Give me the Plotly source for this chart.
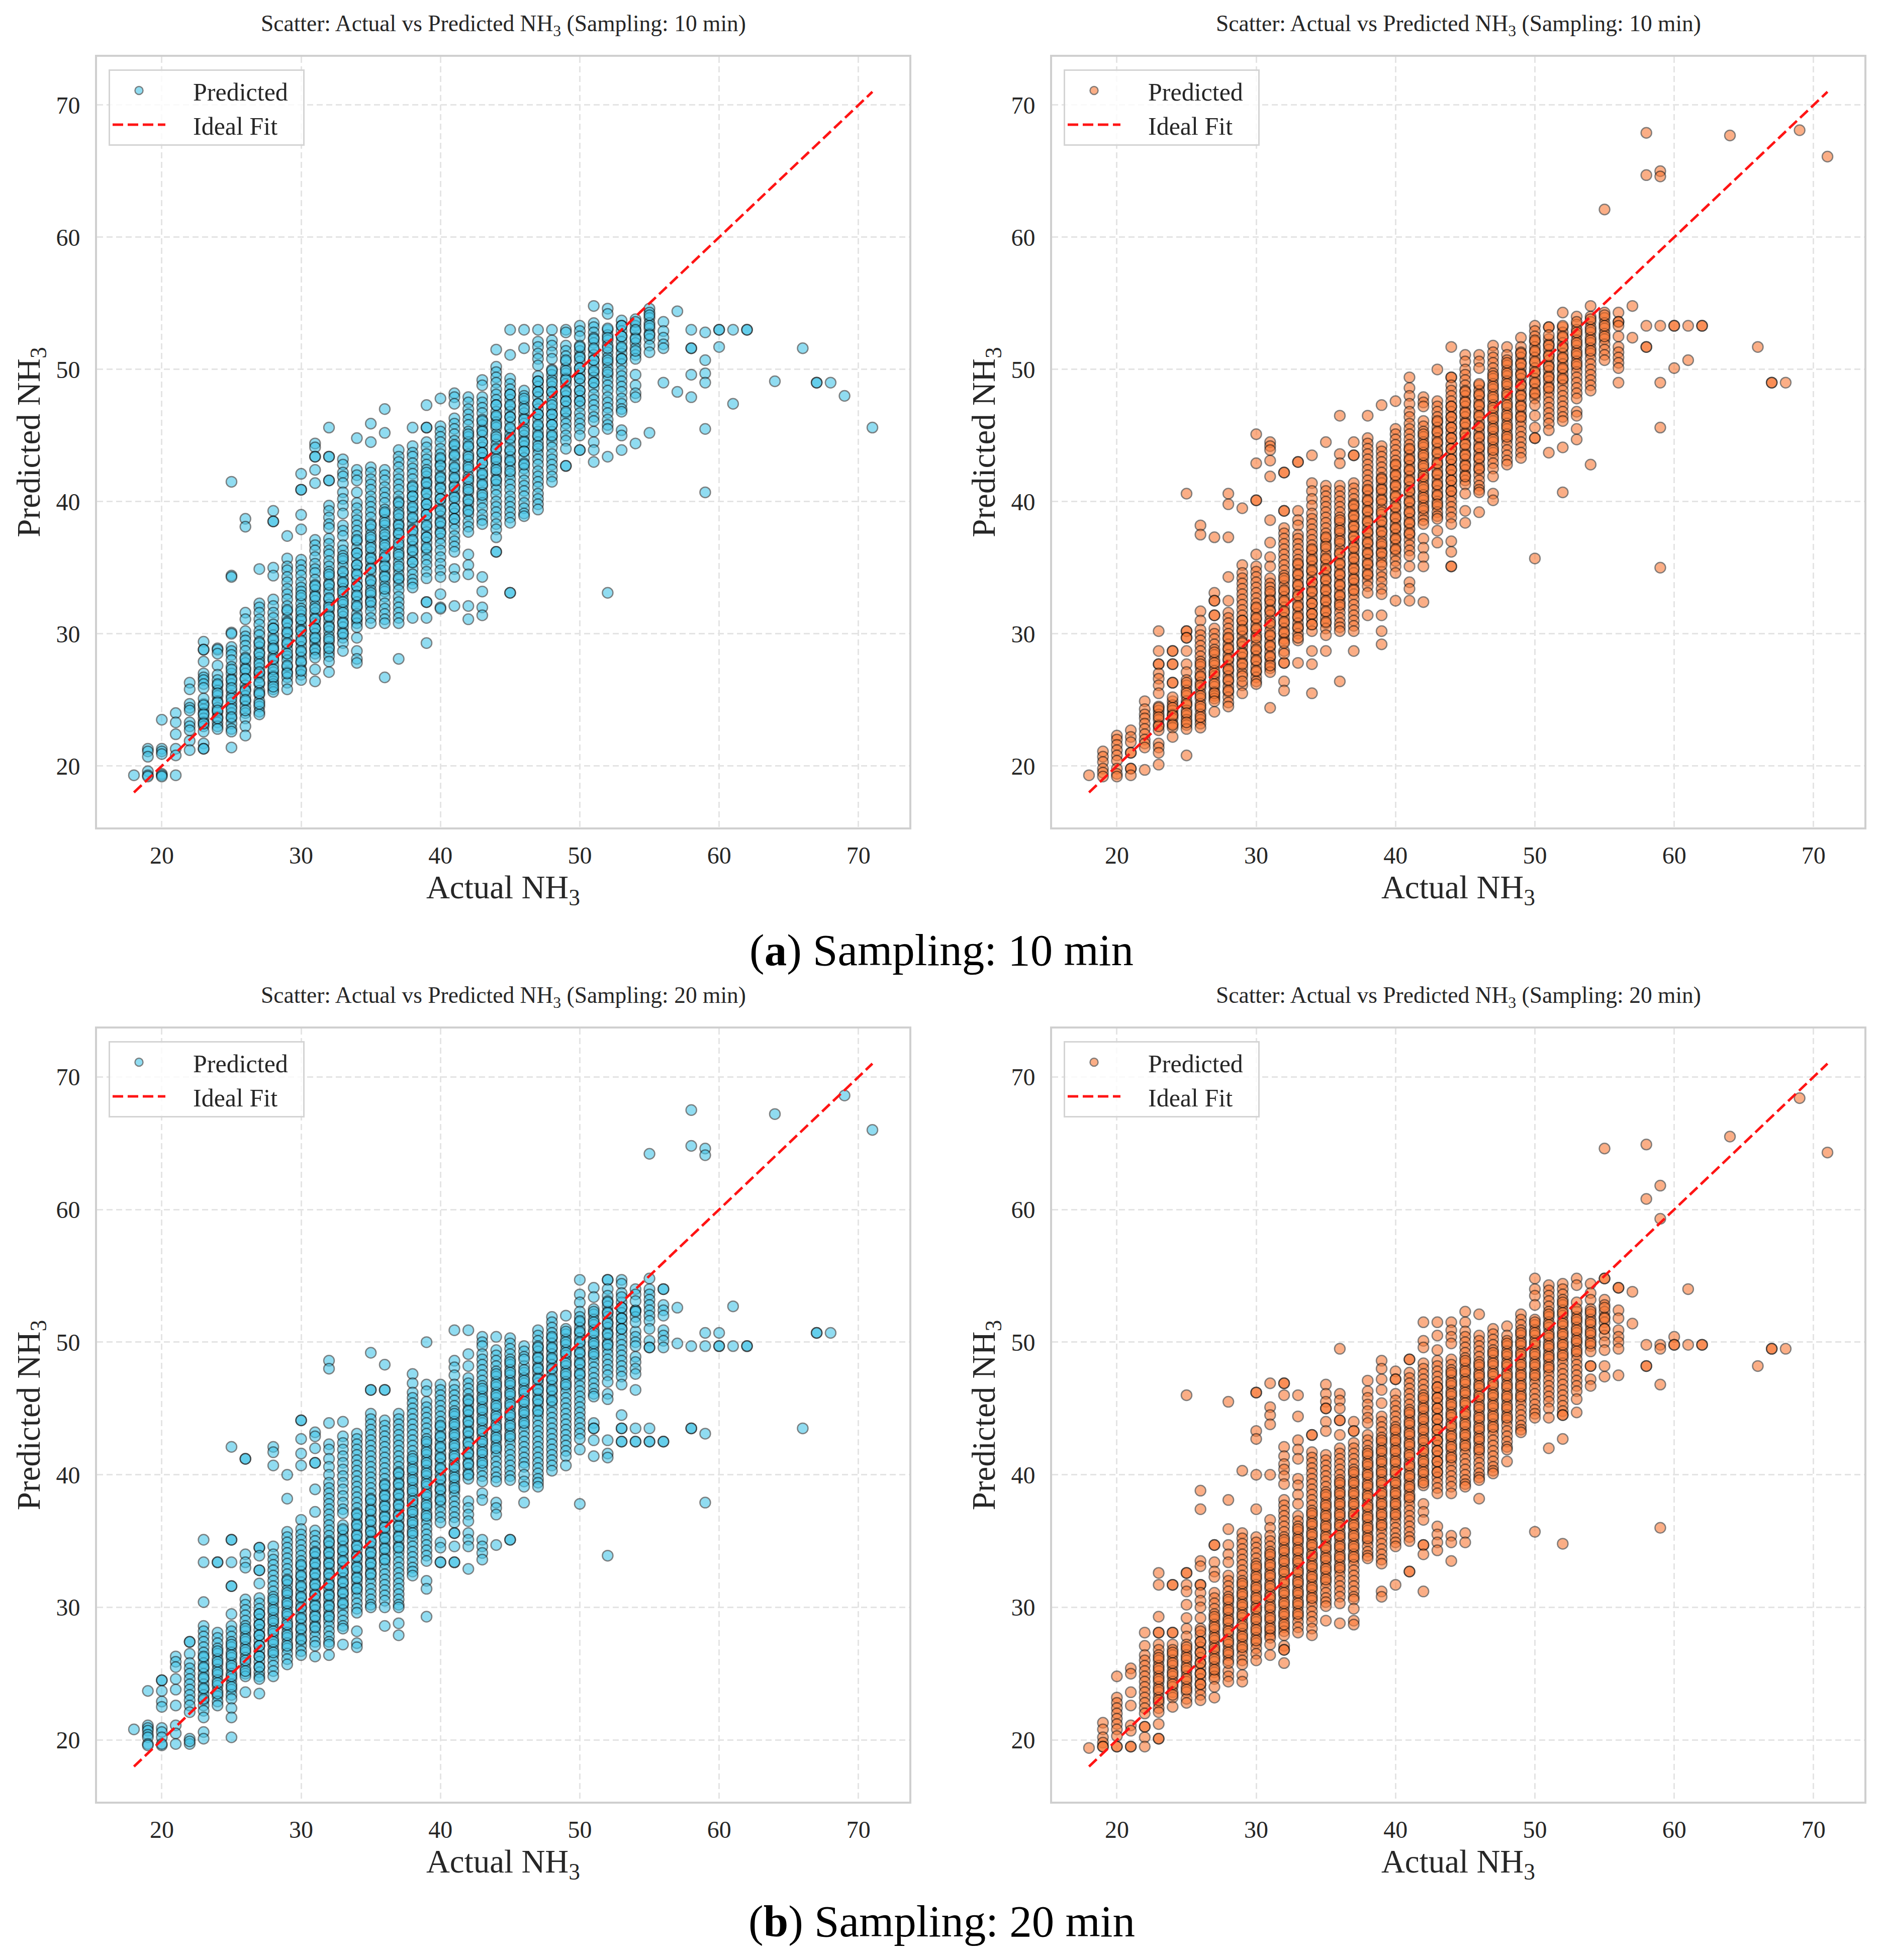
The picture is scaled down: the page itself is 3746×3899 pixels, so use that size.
import plotly.graph_objects as go

# Values: {actual NH3: [predicted NH3, ...]}
blue_10 = {
18:[19.3],
19:[21.3,21.1,20.7,19.6,19.3,19.2],
20:[23.5,21.3,21.1,20.9,19.4,19.3,19.2],
21:[24.0,23.3,22.4,21.3,20.8,19.3],
22:[26.3,25.8,24.7,24.4,24.2,23.3,23.0,22.7,21.9,21.2],
23:[29.4,28.8,28.8,27.9,27.0,26.7,26.5,26.2,25.9,24.7,24.3,24.0,23.6,23.3,23.0,22.6,21.7,21.3,21.3],
24:[28.9,28.8,28.5,27.6,26.9,26.5,26.1,25.7,25.3,24.9,24.4,24.1,23.7,23.3,23.0,22.8],
25:[41.5,34.4,34.3,30.1,30.0,29.0,28.7,28.4,28.0,27.5,27.0,26.6,26.2,25.7,25.3,24.8,24.5,24.0,23.6,23.2,22.8,22.6,21.4],
26:[38.7,38.1,31.6,31.1,30.2,29.8,29.5,29.1,28.7,28.2,27.8,27.4,27.0,26.6,26.1,25.8,25.3,24.9,24.5,24.0,23.6,23.0,22.3],
27:[34.9,32.3,32.0,31.6,31.1,30.7,30.2,29.9,29.4,29.0,28.6,28.2,27.9,27.4,27.0,26.7,26.2,25.7,25.4,24.9,24.5,24.1,23.9],
28:[39.3,38.5,38.5,35.0,34.4,32.6,32.1,31.6,31.2,30.7,30.4,29.9,29.5,29.1,28.8,28.3,28.0,27.6,27.1,26.8,26.4,26.2,25.8,25.6],
29:[37.4,35.7,35.1,34.8,34.3,33.9,33.4,33.0,32.6,32.1,31.7,31.2,30.9,30.4,30.0,29.6,29.2,28.8,28.3,28.0,27.5,27.1,26.7,26.3,25.8],
30:[42.1,40.9,40.9,39.0,37.9,35.6,35.2,34.8,34.4,33.9,33.5,33.2,32.7,32.3,31.9,31.4,31.0,30.6,30.3,29.8,29.4,29.0,28.6,28.2,27.8,27.3,26.9,26.5],
31:[44.4,44.1,43.4,43.4,42.4,41.4,37.1,36.7,36.3,35.8,35.3,34.9,34.6,34.1,33.7,33.3,32.9,32.5,32.1,31.6,31.2,30.8,30.4,30.0,29.6,29.3,28.9,28.5,27.3,26.4],
32:[45.6,43.4,43.4,41.6,41.6,39.7,39.3,38.8,38.3,38.0,37.2,36.8,36.3,36.0,35.5,35.1,34.7,34.3,33.8,33.4,33.1,32.6,32.2,31.8,31.4,31.0,30.6,30.2,29.8,29.4,29.0,28.6,28.3,27.9,27.1],
33:[43.2,42.8,42.2,41.9,41.4,40.7,40.2,39.7,39.1,38.2,37.8,37.4,36.7,36.3,35.9,35.5,35.1,34.6,34.2,33.8,33.4,33.0,32.6,32.2,31.8,31.3,30.9,30.5,30.1,29.7,29.3,28.7],
34:[44.8,42.4,42.0,41.6,40.7,39.9,39.5,39.0,38.6,38.2,37.8,37.4,37.0,36.5,36.1,35.7,35.2,34.8,34.4,34.0,33.6,33.2,32.8,32.4,32.0,31.5,31.1,30.8,30.5,29.7,28.7,28.1,27.8],
35:[45.9,44.5,42.6,42.2,41.7,41.3,40.9,40.4,40.0,39.6,39.2,38.8,38.3,37.9,37.5,37.1,36.7,36.2,35.8,35.4,35.0,34.6,34.1,33.7,33.3,32.9,32.5,32.1,31.7,31.2,30.8],
36:[47.0,45.2,42.4,42.0,41.6,41.1,40.7,40.3,39.9,39.4,39.1,38.6,38.2,37.8,37.3,37.0,36.5,36.1,35.7,35.2,34.8,34.4,34.0,33.6,33.2,32.8,32.3,31.9,31.5,31.1,30.8,26.7],
37:[43.9,43.4,43.0,42.6,42.1,41.7,41.3,40.9,40.4,40.0,39.6,39.2,38.7,38.3,37.9,37.5,37.1,36.6,36.2,35.8,35.4,34.9,34.5,34.1,33.7,33.3,32.8,32.4,32.0,31.6,31.2,30.8,28.1],
38:[45.6,44.2,43.7,43.4,42.9,42.5,42.1,41.7,41.2,40.8,40.4,40.0,39.5,39.2,38.7,38.3,37.9,37.5,37.0,36.6,36.2,35.8,35.4,34.9,34.5,34.1,33.8,33.5,31.2],
39:[47.3,45.6,45.6,44.5,44.1,43.6,43.2,42.8,42.4,41.9,41.5,41.1,40.7,40.2,39.8,39.4,39.0,38.6,38.1,37.7,37.3,36.9,36.4,36.0,35.6,35.2,34.7,34.2,32.4,32.4,31.2,29.3],
40:[47.8,45.7,45.3,44.9,44.5,44.0,43.6,43.2,42.8,42.3,41.9,41.5,41.1,40.6,40.2,39.8,39.4,38.9,38.5,38.1,37.7,37.2,36.8,36.3,35.8,35.3,34.8,34.3,33.0,32.0,31.9],
41:[48.2,47.9,47.4,46.3,45.9,45.5,45.1,44.6,44.2,43.8,43.4,42.9,42.5,42.1,41.7,41.2,40.8,40.4,40.0,39.5,39.1,38.7,38.3,37.9,37.4,37.0,36.6,36.2,34.9,34.3,32.1],
42:[47.9,47.5,47.0,46.6,46.2,45.8,45.3,44.9,44.5,44.1,43.6,43.2,42.8,42.4,41.9,41.5,41.1,40.7,40.2,39.8,39.4,39.0,38.5,38.1,37.7,36.0,35.2,34.5,32.1,31.1],
43:[49.2,48.8,47.9,47.5,47.1,46.7,46.2,45.8,45.4,45.0,44.5,44.1,43.7,43.3,42.9,42.4,42.0,41.6,41.2,40.7,40.3,39.9,39.5,39.0,38.6,38.3,34.3,33.2,32.0,31.4],
44:[51.5,50.2,49.8,49.4,49.0,48.5,48.1,47.7,47.3,46.8,46.4,46.0,45.6,45.1,44.7,44.3,43.9,43.4,43.0,42.6,42.2,41.7,41.3,40.9,40.5,40.0,39.6,39.2,38.8,38.3,37.9,37.3,36.2,36.2],
45:[53.0,51.1,49.3,48.9,48.5,48.1,47.7,47.2,46.8,46.4,46.0,45.5,45.1,44.7,44.3,43.8,43.4,43.0,42.6,42.1,41.7,41.3,40.9,40.4,40.0,39.6,39.2,38.8,38.4,33.1,33.1],
46:[53.0,51.6,48.4,48.0,47.6,47.2,46.7,46.3,45.9,45.5,45.0,44.6,44.2,43.8,43.3,42.9,42.5,42.1,41.6,41.2,40.8,40.4,39.9,39.5,39.1,38.9],
47:[53.0,52.1,51.7,51.2,50.8,50.3,49.5,49.1,48.7,48.3,47.9,47.4,47.0,46.6,46.2,45.7,45.3,44.9,44.5,44.0,43.6,43.2,42.8,42.3,41.9,41.5,41.1,40.6,40.2,39.8,39.4],
48:[53.0,52.2,51.8,51.3,50.8,50.0,49.6,49.2,48.7,48.3,47.9,47.5,47.0,46.6,46.2,45.8,45.3,44.9,44.5,44.1,43.6,43.2,42.8,42.4,41.9,41.5],
49:[53.0,52.8,51.8,51.4,51.0,50.6,50.1,49.7,49.3,48.9,48.4,48.0,47.6,47.2,46.7,46.3,45.9,45.5,45.0,44.6,44.0,42.7,42.7],
50:[53.3,52.9,52.5,51.8,51.4,51.0,50.6,50.1,49.7,49.3,48.9,48.4,48.0,47.6,47.2,46.7,46.3,45.9,45.5,45.0,43.9,43.9],
51:[54.8,53.5,53.2,52.8,52.4,52.0,51.5,51.1,50.7,50.3,49.8,49.4,49.0,48.6,48.1,47.7,47.3,46.9,46.4,46.1,45.3,44.5,43.9,43.0],
52:[54.6,54.2,53.0,52.6,52.2,51.8,51.3,50.9,50.5,50.1,49.6,49.2,48.8,48.4,47.9,47.5,47.1,46.7,46.2,45.8,45.5,43.4,33.1],
53:[53.7,53.3,52.9,52.5,52.1,51.6,51.2,50.8,50.4,49.9,49.5,49.1,48.7,48.3,47.8,47.4,47.0,46.8,45.4,45.0,43.9],
54:[53.8,53.3,52.9,52.4,52.0,51.6,51.1,50.8,49.6,48.8,48.2,47.9,44.4],
55:[54.6,54.3,53.9,53.5,53.1,52.7,52.3,51.8,51.3,45.2],
56:[53.6,52.9,52.4,51.9,51.6,49.0],
57:[54.4,48.3],
58:[53.0,51.6,51.6,49.6,47.9],
59:[52.8,50.7,49.7,49.0,45.5,40.7],
60:[53.0,53.0,51.7],
61:[53.0,47.4],
62:[53.0,53.0],
64:[49.1],
66:[51.6],
67:[49.0,49.0],
68:[49.0],
69:[48.0],
71:[45.6],
}

# Darker cores of the blue 10 min columns, where several points overlap
blue_10_core = {
23:[25.1,24.6,23.9,23.2],
24:[26.2,25.5,24.8,24.2,23.6],
25:[27.3,26.5,25.9,25.1,24.3,23.7],
26:[28.1,27.3,26.6,25.7,25.0,24.2],
27:[29.3,28.5,27.7,27.1,26.3,25.5,24.7],
28:[30.4,29.6,28.9,28.1,27.3,26.7,26.0],
29:[31.8,30.8,30.1,29.3,28.5,27.6,27.0],
30:[32.9,31.7,31.1,30.2,29.5,28.7,27.9,27.2],
31:[33.6,32.8,31.9,31.1,30.4,29.7,28.8,28.2],
32:[34.5,33.7,32.7,32.0,31.3,30.5,29.6,28.9],
33:[35.7,34.7,33.9,33.2,32.4,31.6,30.8,30.0],
34:[37.1,36.1,35.2,34.5,33.6,32.9,32.1,31.2],
35:[38.2,37.3,36.5,35.7,34.9,34.0,33.1,32.4],
36:[39.2,38.4,37.5,36.7,35.8,35.1,34.3,33.4],
37:[39.9,39.0,38.2,37.6,36.8,36.0,35.1,34.2],
38:[41.1,40.4,39.6,38.8,37.8,37.1,36.3,35.4],
39:[42.2,41.4,40.6,39.8,39.0,38.2,37.3,36.5],
40:[43.3,42.7,41.8,41.0,40.2,39.3,38.4,37.6],
41:[44.3,43.5,42.6,41.8,41.1,40.3,39.5,38.7],
42:[45.1,44.2,43.4,42.6,41.7,40.9,40.1,39.3],
43:[46.1,45.3,44.5,43.7,42.9,42.1,41.3,40.5],
44:[47.3,46.5,45.8,44.9,44.0,43.2,42.4,41.6],
45:[48.1,47.3,46.4,45.6,44.8,43.9,43.1,42.3],
46:[47.8,47.0,46.2,45.3,44.5,43.8,42.8],
47:[49.1,48.3,47.4,46.6,45.8,45.0,44.2],
48:[49.9,49.0,48.3,47.3,46.6,45.8,45.0],
49:[50.7,49.9,49.2,48.3,47.6,46.8],
50:[51.7,50.9,50.1,49.3,48.4,47.6],
51:[52.3,51.6,50.7,49.9,49.0],
52:[53.1,52.4,51.6,50.7,49.8],
53:[53.3,52.5,51.7,50.8],
54:[53.6,53.0,52.3,51.4],
55:[54.1,53.3,52.6],
}

orange_10 = {
18:[19.3],
19:[21.1,20.7,20.3,19.8,19.5,19.2],
20:[22.3,22.0,21.6,21.2,20.8,20.4,19.8,19.4,19.2],
21:[22.7,22.2,21.8,21.0,21.0,19.8,19.8,19.3],
22:[24.9,24.3,23.9,23.6,23.2,22.8,22.4,22.0,21.7,21.4,19.7],
23:[30.2,28.7,27.7,27.7,27.0,26.6,26.1,25.5,24.5,24.2,23.9,23.5,23.1,22.7,21.7,21.4,21.0,20.1],
24:[28.7,28.7,27.7,27.7,26.3,26.3,24.9,24.6,24.2,23.9,23.6,23.2,22.9,22.2],
25:[40.6,30.2,30.2,29.7,29.7,28.7,27.7,27.1,26.5,26.1,25.7,25.3,24.9,24.6,24.2,23.8,23.5,23.1,22.8,20.8],
26:[38.2,37.5,31.7,31.0,30.3,29.9,29.5,29.1,28.7,28.3,27.9,27.5,27.1,26.7,26.3,25.9,25.5,25.1,24.7,24.3,23.9,23.5,23.2,22.9],
27:[37.3,33.1,32.5,32.5,31.4,31.4,30.4,30.0,29.6,29.2,28.8,28.4,28.0,27.6,27.2,26.8,26.4,26.0,25.6,25.3,25.1,24.1],
28:[40.6,39.8,37.3,34.3,32.5,31.6,31.2,30.8,30.4,30.0,29.6,29.2,28.8,28.4,28.0,27.6,27.2,26.8,26.4,26.0,25.6,25.2,24.8,24.5],
29:[39.5,35.2,34.6,34.2,33.8,33.4,33.0,32.6,32.2,31.8,31.4,31.0,30.6,30.2,29.8,29.4,29.0,28.6,28.2,27.8,27.4,27.0,26.1,25.5],
30:[45.1,42.9,40.1,40.1,36.0,35.1,34.7,34.3,33.9,33.5,33.1,32.7,32.3,31.9,31.5,31.1,30.7,30.3,29.9,29.5,29.1,28.7,28.3,27.9,27.5,27.1,26.7,26.4,26.2],
31:[44.5,44.2,43.9,43.1,41.9,38.6,36.9,35.8,35.1,34.2,33.8,33.5,33.0,32.6,32.2,31.8,31.4,31.0,30.6,30.2,29.8,29.4,29.0,28.6,28.2,27.8,27.4,27.1,24.4],
32:[42.2,42.2,39.3,39.3,38.0,37.6,37.2,36.8,36.4,36.0,35.6,35.2,34.8,34.4,34.0,33.6,33.2,32.8,32.4,32.0,31.6,31.2,30.8,30.4,30.0,29.6,29.4,28.7,27.8,27.8,26.4,25.7],
33:[43.0,43.0,39.3,38.6,38.2,37.5,37.2,36.8,36.4,36.0,35.6,35.2,34.8,34.4,34.0,33.6,33.2,32.8,32.4,32.0,31.6,31.2,30.8,30.4,30.0,29.5,27.8],
34:[43.5,41.4,40.8,40.2,39.7,39.1,38.7,38.3,37.9,37.5,37.1,36.7,36.3,35.9,35.5,35.1,34.7,34.3,33.9,33.5,33.1,32.7,32.3,31.9,31.5,31.1,30.7,30.2,28.7,27.7,25.5],
35:[44.5,41.2,40.8,40.4,40.0,39.6,39.2,38.8,38.4,38.0,37.6,37.2,36.8,36.4,36.0,35.6,35.2,34.8,34.4,34.0,33.6,33.2,32.8,32.4,32.0,31.6,31.2,30.8,30.4,29.9,28.7],
36:[46.5,43.6,42.9,41.2,40.8,40.4,40.0,39.6,39.2,38.8,38.4,38.0,37.6,37.2,36.8,36.4,36.0,35.6,35.2,34.8,34.4,34.0,33.6,33.2,32.8,32.4,32.0,31.6,31.2,30.8,30.5,30.2,26.4],
37:[44.5,43.5,43.5,41.4,41.0,40.6,40.2,39.8,39.4,39.0,38.6,38.2,37.8,37.4,37.0,36.6,36.2,35.8,35.4,35.0,34.6,34.2,33.8,33.4,33.0,32.6,32.2,31.8,31.4,31.0,30.6,30.2,28.7],
38:[46.5,44.8,44.4,44.0,43.6,43.2,42.8,42.4,42.0,41.6,41.2,40.8,40.4,40.0,39.6,39.2,38.8,38.4,38.0,37.6,37.2,36.8,36.4,36.0,35.6,35.2,34.8,34.4,34.0,33.6,33.1,31.4],
39:[47.3,44.2,43.8,43.4,43.0,42.6,42.2,41.8,41.4,41.0,40.6,40.2,39.8,39.4,39.0,38.6,38.2,37.8,37.4,37.0,36.6,36.2,35.8,35.4,34.7,34.3,33.9,33.4,33.0,31.4,30.2,29.2],
40:[47.6,45.5,45.1,44.7,44.3,43.9,43.5,43.1,42.7,42.3,41.9,41.5,41.1,40.7,40.3,39.9,39.5,39.1,38.7,38.3,37.9,37.5,37.1,36.7,36.3,35.9,35.5,35.1,34.6,32.5],
41:[49.4,48.6,48.0,47.4,46.8,46.4,45.9,45.5,45.1,44.7,44.3,43.9,43.5,43.1,42.7,42.3,41.9,41.5,41.1,40.7,40.3,39.9,39.5,39.1,38.7,38.3,37.9,37.5,37.1,36.7,36.3,35.9,35.1,33.9,33.4,32.5],
42:[47.9,47.5,47.2,46.1,45.7,45.3,44.9,44.5,44.1,43.7,43.3,42.9,42.5,42.1,41.7,41.3,40.9,40.5,40.1,39.7,39.3,38.9,38.6,38.3,37.2,36.5,35.8,35.1,32.4],
43:[50.0,47.6,47.2,46.8,46.4,46.0,45.6,45.2,44.8,44.4,44.0,43.6,43.2,42.8,42.4,42.0,41.6,41.2,40.8,40.4,40.0,39.6,39.2,38.9,38.7,37.8,36.9],
44:[51.7,49.4,49.4,48.8,48.4,48.0,47.6,47.2,46.8,46.4,46.0,45.6,45.2,44.8,44.4,44.0,43.6,43.2,42.8,42.4,42.0,41.6,41.2,40.8,40.4,40.0,39.6,39.2,38.8,38.3,37.0,36.2,35.1,35.1],
45:[51.1,50.6,50.0,49.6,49.2,48.8,48.4,48.0,47.6,47.2,46.8,46.4,46.0,45.6,45.2,44.8,44.4,44.0,43.6,43.2,42.8,42.4,42.0,41.6,41.3,40.6,39.3,38.4],
46:[51.1,50.6,50.1,48.8,48.4,48.0,47.6,47.2,46.8,46.4,46.0,45.6,45.2,44.8,44.4,44.0,43.6,43.2,42.8,42.4,42.0,41.6,41.2,40.9,40.7,39.2],
47:[51.8,51.3,50.9,50.5,50.1,49.7,49.3,48.9,48.5,48.1,47.7,47.3,46.9,46.5,46.1,45.7,45.3,44.9,44.5,44.1,43.7,43.3,42.9,42.5,41.9,40.6,40.1],
48:[51.7,51.1,50.7,50.3,49.9,49.5,49.1,48.7,48.3,47.9,47.5,47.1,46.7,46.3,45.9,45.5,45.1,44.7,44.3,43.9,43.5,43.1,42.8],
49:[52.4,51.7,51.3,50.9,50.5,50.1,49.7,49.3,48.9,48.5,48.1,47.7,47.3,46.9,46.5,46.1,45.7,45.3,44.9,44.5,44.1,43.7,43.3],
50:[53.3,52.9,52.5,52.1,51.7,51.3,50.9,50.5,50.1,49.7,49.3,48.9,48.5,48.1,47.8,47.3,46.5,45.6,44.8,44.8,35.7],
51:[53.2,53.2,52.3,51.9,51.5,51.1,50.7,50.3,49.9,49.5,49.1,48.7,48.3,47.9,47.5,47.1,46.7,46.3,45.9,45.4,43.7],
52:[54.3,53.2,52.8,52.4,52.0,51.6,51.2,50.8,50.4,50.0,49.6,49.2,48.8,48.4,48.0,47.6,47.2,46.8,46.4,46.1,44.1,40.7],
53:[54.0,53.4,53.0,52.6,52.2,51.8,51.4,51.0,50.6,50.2,49.8,49.4,49.0,48.6,48.2,47.8,46.8,46.5,45.5,44.7],
54:[54.8,54.0,53.6,53.2,52.8,52.4,52.0,51.6,51.2,50.8,50.4,50.0,49.6,49.2,48.8,48.4,42.8],
55:[62.1,54.3,53.9,53.5,53.1,52.7,52.3,51.9,51.5,51.1,50.7],
56:[54.3,53.6,53.6,53.3,52.5,51.7,51.3,50.9,50.5,50.1,49.0],
57:[54.8,52.4],
58:[67.9,64.7,53.3,51.7,51.7],
59:[65.0,64.6,53.3,49.0,45.6,35.0],
60:[53.3,53.3,50.1],
61:[53.3,50.7],
62:[53.3,53.3],
64:[67.7],
66:[51.7],
67:[49.0,49.0],
68:[49.0],
69:[68.1],
71:[66.1],
}

orange_10_core = {
23:[24.4,23.7,23.0],
24:[25.2,24.4,23.8,23.1],
25:[26.3,25.5,24.7,24.0,23.3],
26:[27.7,26.8,26.1,25.3,24.5,23.7],
27:[28.6,27.8,27.0,26.2,25.5,24.9],
28:[29.7,28.9,28.1,27.3,26.5,25.7],
29:[31.0,30.3,29.3,28.5,27.7,26.8,26.4],
30:[32.0,31.2,30.4,29.7,28.8,28.0,27.2],
31:[33.2,32.5,31.7,30.8,29.9,29.1,28.3,27.6],
32:[34.2,33.3,32.5,31.7,30.9,30.1,29.3,28.5],
33:[35.3,34.5,33.7,32.9,32.1,31.3,30.5,29.7],
34:[36.4,35.6,34.8,33.9,33.2,32.3,31.5,30.7],
35:[37.3,36.6,35.7,34.9,34.1,33.3,32.5,31.7,30.9],
36:[38.6,37.8,37.0,36.1,35.3,34.5,33.7,32.9,32.2],
37:[39.7,38.9,38.1,37.3,36.5,35.7,34.9,34.1,33.3],
38:[40.9,40.1,39.3,38.5,37.7,36.9,36.1,35.3,34.5],
39:[41.7,40.9,40.1,39.2,38.5,37.7,36.8,36.1,35.2],
40:[42.8,42.0,41.2,40.4,39.6,38.8,38.0,37.2,36.4],
41:[44.0,43.2,42.4,41.6,40.8,40.0,39.2,38.4,37.6],
42:[45.1,44.3,43.5,42.7,41.9,41.1,40.3,39.5],
43:[46.1,45.3,44.5,43.7,42.9,42.1,41.3,40.5,39.8],
44:[47.2,46.4,45.6,44.8,44.0,43.2,42.4,41.6,40.8],
45:[48.3,47.5,46.7,45.9,45.1,44.3,43.5,42.7,41.9],
46:[48.9,48.1,47.3,46.5,45.7,44.9,44.1,43.3,42.5],
47:[49.5,48.7,47.9,47.1,46.3,45.5,44.7,43.9],
48:[50.5,49.7,48.9,48.1,47.3,46.5,45.7,44.9],
49:[51.2,50.4,49.6,48.8,48.0,47.2,46.4],
50:[52.2,51.4,50.6,49.8,49.0,48.2],
51:[52.6,51.8,51.0,50.2,49.4,48.6],
52:[53.3,52.5,51.7,50.9,50.1,49.3],
53:[53.6,52.8,52.0,51.2,50.4],
54:[53.8,53.0,52.2,51.4],
55:[54.1,53.3,52.5],
}

blue_20 = {
18:[20.8],
19:[23.7,21.1,20.9,20.7,20.4,20.2,19.7,19.6],
20:[24.5,24.5,23.7,22.9,22.5,20.9,20.6,20.2,19.6,19.7],
21:[26.3,25.9,25.5,24.6,23.8,22.6,21.1,20.5,19.7],
22:[27.4,27.4,26.5,25.8,25.4,25.0,24.6,24.2,23.8,23.4,23.0,22.6,22.1,20.1,19.7,19.9],
23:[35.1,33.4,30.4,28.6,28.2,27.8,27.4,27.0,26.6,26.2,25.8,25.4,25.0,24.6,24.2,23.8,23.4,23.0,22.6,22.2,21.7,20.6,20.1],
24:[33.4,33.4,28.1,27.7,27.3,26.9,26.5,26.1,25.7,25.3,24.9,24.5,24.1,23.7,23.3,22.9,22.6],
25:[42.1,35.1,35.1,33.4,31.6,31.6,29.5,28.6,28.2,27.8,27.4,27.0,26.6,26.2,25.8,25.4,25.0,24.6,24.2,23.8,23.4,23.1,22.4,21.7,20.2],
26:[41.2,41.2,34.0,33.4,33.0,30.6,30.2,29.8,29.4,29.0,28.6,28.2,27.8,27.4,27.0,26.6,26.2,25.8,25.4,25.0,24.8,23.6],
27:[34.5,34.5,33.9,32.8,32.8,31.8,30.7,30.3,29.9,29.5,29.1,28.7,28.3,27.9,27.5,27.1,26.7,26.3,25.9,25.5,25.1,24.8,24.6,23.5],
28:[42.1,41.7,40.7,34.6,34.0,33.6,33.2,32.8,32.4,32.0,31.6,31.2,30.8,30.4,30.0,29.6,29.2,28.8,28.4,28.0,27.6,27.2,26.8,26.4,26.0,25.6,25.2,24.8],
29:[40.0,38.2,35.7,35.3,34.9,34.5,34.1,33.7,33.3,32.9,32.5,32.1,31.7,31.3,30.9,30.5,30.1,29.7,29.3,28.9,28.5,28.1,27.7,27.3,26.9,26.5,26.1,25.7],
30:[44.1,44.1,42.7,41.6,40.7,36.6,35.9,35.5,35.1,34.7,34.3,33.9,33.5,33.1,32.7,32.3,31.9,31.5,31.1,30.7,30.3,29.9,29.5,29.1,28.7,28.3,27.9,27.5,27.1,26.7,26.4],
31:[43.2,42.9,42.0,40.9,40.9,38.9,37.2,35.8,35.4,35.0,34.6,34.2,33.8,33.4,33.0,32.6,32.2,31.8,31.4,31.0,30.6,30.2,29.8,29.4,29.0,28.6,28.2,27.8,27.4,27.1,26.3],
32:[48.6,48.0,43.9,42.3,41.9,41.2,40.6,40.0,39.4,39.0,38.6,38.2,37.8,37.4,37.0,36.6,36.2,35.8,35.4,35.0,34.6,34.2,33.8,33.4,33.0,32.6,32.2,31.8,31.4,31.0,30.6,30.2,29.8,29.4,29.0,28.6,28.2,27.8,27.4,27.2,26.4],
33:[44.0,42.9,42.4,41.9,41.4,40.9,40.4,39.9,39.4,38.9,38.4,37.9,37.4,37.1,36.2,35.8,35.4,35.0,34.6,34.2,33.8,33.4,33.0,32.6,32.2,31.8,31.4,31.0,30.6,30.2,29.8,29.4,29.0,28.6,28.4,27.2],
34:[43.1,42.7,42.3,41.9,41.5,41.1,40.7,40.3,39.9,39.5,39.1,38.7,38.3,37.9,37.5,37.1,36.7,36.3,35.9,35.5,35.1,34.7,34.3,33.9,33.5,33.1,32.7,32.3,31.9,31.5,31.1,30.7,30.3,29.9,29.6,28.2,27.3,27.0],
35:[49.2,46.4,46.4,44.6,44.2,43.8,43.4,43.0,42.6,42.2,41.8,41.4,41.0,40.6,40.2,39.8,39.4,39.0,38.6,38.2,37.8,37.4,37.0,36.6,36.2,35.8,35.4,35.0,34.6,34.2,33.8,33.4,33.0,32.6,32.2,31.8,31.4,31.0,30.6,30.2,30.0],
36:[48.3,46.4,46.4,44.1,43.7,43.3,42.9,42.5,42.1,41.7,41.3,40.9,40.5,40.1,39.7,39.3,38.9,38.5,38.1,37.7,37.3,36.9,36.5,36.1,35.7,35.3,34.9,34.5,34.1,33.7,33.3,32.9,32.5,32.1,31.7,31.3,30.9,30.5,30.0,28.6],
37:[44.6,44.2,43.8,43.4,43.0,42.6,42.2,41.8,41.4,41.0,40.6,40.2,39.8,39.4,39.0,38.6,38.2,37.8,37.4,37.0,36.6,36.2,35.8,35.4,35.0,34.6,34.2,33.8,33.4,33.0,32.6,32.2,31.8,31.4,31.0,30.6,30.2,30.0,28.8,27.9],
38:[47.6,46.9,46.2,45.8,45.4,45.0,44.6,44.2,43.8,43.4,43.0,42.6,42.2,41.8,41.4,41.0,40.6,40.2,39.8,39.4,39.0,38.6,38.2,37.8,37.4,37.0,36.6,36.2,35.8,35.4,35.0,34.6,34.2,33.8,33.4,33.0,32.7,32.4],
39:[50.0,46.8,46.3,45.5,45.1,44.7,44.3,43.9,43.5,43.1,42.7,42.3,41.9,41.5,41.1,40.7,40.3,39.9,39.5,39.1,38.7,38.3,37.9,37.5,37.1,36.7,36.3,35.9,35.5,35.1,34.7,34.3,33.9,33.5,32.0,31.4,29.3],
40:[46.8,46.4,46.0,45.6,45.2,44.8,44.4,44.0,43.6,43.2,42.8,42.4,42.0,41.6,41.2,40.8,40.4,40.0,39.6,39.2,38.8,38.4,38.0,37.6,37.2,36.8,36.4,34.9,34.5,33.4,33.4],
41:[50.9,48.6,48.1,47.5,46.8,46.4,46.0,45.6,45.2,44.8,44.4,44.0,43.6,43.2,42.8,42.4,42.0,41.6,41.2,40.8,40.4,40.0,39.6,39.2,38.8,38.4,38.0,37.6,37.2,36.8,36.4,35.6,35.6,34.6,33.4,33.4],
42:[50.9,49.1,48.2,47.3,46.9,46.5,46.1,45.7,45.3,44.9,44.5,44.1,43.7,43.3,42.9,42.5,42.1,41.7,41.3,40.9,40.5,40.1,39.7,38.0,37.5,37.0,36.5,35.6,35.1,34.6,32.9],
43:[50.4,50.0,49.7,49.1,48.7,48.3,47.9,47.5,47.1,46.7,46.3,45.9,45.5,45.1,44.7,44.3,43.9,43.5,43.1,42.7,42.3,41.9,41.5,41.1,40.7,40.3,39.9,39.5,38.6,38.1,35.1,34.6,34.1,33.6],
44:[50.4,49.4,49.0,48.6,48.2,47.8,47.4,47.0,46.6,46.2,45.8,45.4,45.0,44.6,44.2,43.8,43.4,43.0,42.6,42.2,41.8,41.4,41.0,40.6,40.2,39.8,39.5,37.9,37.5,37.0,34.7],
45:[50.3,49.9,49.5,49.1,48.7,48.3,47.9,47.5,47.1,46.7,46.3,45.9,45.5,45.1,44.7,44.3,43.9,43.5,43.1,42.7,42.3,41.9,41.5,41.1,40.7,40.3,39.9,39.6,35.1,35.1],
46:[49.7,49.3,48.9,48.2,47.7,47.3,46.9,46.5,46.1,45.7,45.3,44.9,44.5,44.1,43.7,43.3,42.9,42.5,42.1,41.7,41.3,40.9,40.6,40.0,39.5,39.1,37.9],
47:[50.9,50.5,50.1,49.7,49.3,48.9,48.5,48.1,47.7,47.3,46.9,46.5,46.1,45.7,45.3,44.9,44.5,44.1,43.7,43.3,42.9,42.5,42.1,41.7,41.3,40.9,40.5,40.1,39.7,39.4,39.1],
48:[51.9,51.5,51.1,50.7,50.3,49.9,49.5,49.1,48.7,48.3,47.9,47.5,47.1,46.7,46.3,45.9,45.5,45.1,44.7,44.3,43.9,43.5,43.1,42.7,42.3,41.9,41.5,41.1,40.7,40.3],
49:[52.0,51.0,50.6,50.2,49.8,49.4,49.0,48.6,48.2,47.8,47.4,47.0,46.6,46.2,45.8,45.4,45.0,44.6,44.2,43.8,43.4,43.0,42.6,42.2,41.8,41.4,40.7],
50:[54.7,53.6,53.0,52.3,51.9,51.5,51.1,50.7,50.3,49.9,49.5,49.1,48.7,48.3,47.9,47.5,47.1,46.7,46.3,45.9,45.5,45.1,44.7,44.3,43.9,43.5,43.1,42.7,41.9,37.8],
51:[54.1,53.4,52.5,52.1,51.7,51.3,50.9,50.5,50.1,49.7,49.3,48.9,48.5,48.1,47.7,47.3,46.9,46.5,46.1,45.9,43.9,43.5,43.5,42.6,41.4],
52:[54.7,54.7,54.0,53.5,53.1,52.7,52.3,51.9,51.5,51.1,50.7,50.3,49.9,49.5,49.1,48.7,48.3,47.9,47.5,47.0,46.1,45.7,42.6,41.6,41.3,33.9],
53:[54.7,54.4,53.7,53.0,52.6,52.2,51.8,51.4,51.0,50.6,50.2,49.8,49.4,49.0,48.6,48.2,47.8,47.4,46.8,44.5,43.5,43.5,42.5,42.5],
54:[54.0,53.6,52.4,52.4,51.9,50.8,50.4,50.0,49.7,48.9,48.5,48.0,47.6,46.4,43.5,42.5,42.5],
55:[64.2,54.8,54.0,53.6,53.2,52.8,52.4,52.0,51.6,51.0,50.1,49.6,49.6,43.5,42.5,42.5],
56:[54.0,54.0,52.8,52.4,52.0,50.9,50.5,50.1,49.6,42.5,42.5],
57:[52.6,49.9],
58:[67.5,64.8,49.7,43.5,43.5],
59:[64.6,64.1,50.7,49.7,43.1,37.9],
60:[50.7,49.7,49.7],
61:[52.7,49.7],
62:[49.7,49.7],
64:[67.2],
66:[43.5],
67:[50.7,50.7],
68:[50.7],
69:[68.6],
71:[66.0],
}

blue_20_core = {
23:[26.3,25.5,24.7,23.9,23.1],
24:[26.7,25.9,25.1,24.3,23.5],
25:[27.2,26.4,25.6,24.8,24.0],
26:[28.4,27.6,26.8,26.0,25.2],
27:[29.5,28.7,27.9,27.1,26.3,25.5],
28:[30.6,29.8,29.0,28.2,27.4,26.6],
29:[32.0,31.1,30.3,29.5,28.7,27.9,27.1],
30:[33.2,32.4,31.6,30.8,30.0,29.2,28.4,27.6],
31:[34.1,33.3,32.5,31.7,30.9,30.1,29.3,28.5],
32:[34.9,34.1,33.3,32.5,31.7,30.9,30.1,29.3],
33:[35.9,35.1,34.3,33.5,32.7,31.9,31.1,30.3],
34:[37.0,36.2,35.4,34.6,33.8,33.0,32.2,31.4],
35:[38.1,37.3,36.5,35.7,34.9,34.1,33.3,32.5],
36:[39.2,38.4,37.6,36.8,36.0,35.2,34.4,33.6],
37:[40.1,39.3,38.5,37.7,36.9,36.1,35.3,34.5],
38:[41.2,40.4,39.6,38.8,38.0,37.2,36.4,35.6],
39:[42.5,41.7,40.9,40.1,39.3,38.5,37.7,36.9],
40:[43.7,42.9,42.1,41.3,40.5,39.7,38.9,38.1],
41:[44.6,43.8,43.0,42.2,41.4,40.6,39.8,39.0],
42:[45.6,44.8,44.0,43.2,42.4,41.6,40.8,40.0],
43:[46.5,45.7,44.9,44.1,43.3,42.5,41.7,40.9],
44:[47.6,46.8,46.0,45.2,44.4,43.6,42.8,42.0],
45:[48.5,47.7,46.9,46.1,45.3,44.5,43.7,42.9],
46:[48.7,47.9,47.1,46.3,45.5,44.7,43.9],
47:[49.6,48.8,48.0,47.2,46.4,45.6,44.8],
48:[50.4,49.6,48.8,48.0,47.2,46.4,45.6],
49:[50.8,50.0,49.2,48.4,47.6,46.8],
50:[51.6,50.8,50.0,49.2,48.4,47.6],
51:[52.3,51.5,50.7,49.9,49.1],
52:[53.0,52.2,51.4,50.6,49.8],
53:[53.4,52.6,51.8,51.0],
54:[53.1,52.3,51.5],
}

orange_20 = {
18:[19.4],
19:[21.3,20.8,20.2,19.8,19.5,19.5],
20:[24.8,23.2,22.8,22.4,22.0,21.6,21.2,20.8,20.3,19.5,19.5],
21:[25.4,25.0,23.6,22.6,21.1,20.7,19.5,19.5],
22:[28.1,27.1,26.4,26.0,25.6,25.2,24.8,24.4,24.0,23.6,23.2,22.8,22.4,22.0,21.0,21.0,20.2,19.5],
23:[32.6,31.7,29.3,28.1,28.1,27.2,26.8,26.4,26.0,25.6,25.2,24.8,24.4,24.0,23.6,23.2,22.8,22.4,22.1,21.2,20.1,20.1],
24:[31.7,31.7,28.1,28.1,27.2,26.8,26.4,26.0,25.6,25.2,24.8,24.4,24.0,23.6,23.2,22.5],
25:[46.0,32.6,32.6,31.7,31.2,30.2,29.2,28.4,27.8,27.2,26.8,26.4,26.0,25.6,25.2,24.8,24.4,24.0,23.6,23.1,22.8],
26:[38.8,37.4,33.5,33.1,31.7,31.7,31.1,30.5,30.0,29.2,28.4,27.9,27.4,27.0,26.6,26.2,25.8,25.4,25.0,24.6,24.2,23.8,23.4,23.0],
27:[34.7,34.7,33.4,32.7,32.3,31.1,30.7,30.3,29.9,29.5,29.1,28.7,28.3,27.9,27.5,27.1,26.7,26.3,25.9,25.5,25.1,24.8,24.6,24.0,23.2],
28:[45.5,38.1,35.9,34.7,34.0,33.4,32.4,32.0,31.6,31.2,30.8,30.4,30.0,29.6,29.2,28.8,28.4,28.0,27.6,27.2,26.8,26.4,26.0,25.2,24.8,24.4],
29:[40.3,35.6,35.2,34.8,34.4,34.0,33.6,33.2,32.8,32.4,32.0,31.6,31.2,30.8,30.4,30.0,29.6,29.2,28.8,28.4,28.0,27.6,27.2,26.8,26.4,26.0,25.7,24.9,24.4],
30:[46.2,46.2,43.3,42.7,40.0,37.4,35.3,34.9,34.5,34.1,33.7,33.3,32.9,32.5,32.1,31.7,31.3,30.9,30.5,30.1,29.7,29.3,28.9,28.5,28.1,27.7,27.3,26.9,26.5,26.0],
31:[46.9,45.1,44.5,43.8,40.0,36.6,36.0,35.4,35.0,34.6,34.2,33.8,33.4,33.0,32.6,32.2,31.8,31.4,31.0,30.6,30.2,29.8,29.4,29.0,28.6,28.2,27.9,27.7,27.2,26.4],
32:[46.9,46.9,46.0,42.1,41.4,40.8,40.4,39.9,39.3,38.1,37.7,37.3,36.9,36.5,36.1,35.7,35.3,34.9,34.5,34.1,33.7,33.3,32.9,32.5,32.1,31.7,31.3,30.9,30.5,30.1,29.7,29.3,28.9,28.5,28.2,27.9,27.1,26.8,26.8,25.8],
33:[46.0,44.4,42.6,41.9,41.2,39.7,39.2,38.5,37.8,36.9,36.5,36.1,35.7,35.3,34.9,34.5,34.1,33.7,33.3,32.9,32.5,32.1,31.7,31.3,30.9,30.5,30.1,29.7,29.3,28.9,28.5,28.1],
34:[43.0,43.0,41.7,41.3,40.9,40.5,40.1,39.7,39.3,38.9,38.5,38.1,37.7,37.3,36.9,36.5,36.1,35.7,35.3,34.9,34.5,34.1,33.7,33.3,32.9,32.5,32.1,31.7,31.3,30.9,30.5,30.1,29.7,29.3,28.9,28.4,27.9],
35:[46.8,46.1,45.5,45.0,45.0,44.0,43.3,41.5,41.1,40.7,40.3,39.9,39.5,39.1,38.7,38.3,37.9,37.5,37.1,36.7,36.3,35.9,35.5,35.1,34.7,34.3,33.9,33.5,33.1,32.7,32.3,31.9,31.5,31.1,30.7,30.4,30.1,29.0],
36:[49.5,46.1,45.6,45.0,44.1,44.1,43.0,42.0,41.6,41.2,40.8,40.4,40.0,39.6,39.2,38.8,38.4,38.0,37.6,37.2,36.8,36.4,36.0,35.6,35.2,34.8,34.4,34.0,33.6,33.2,32.8,32.4,32.0,31.6,31.2,30.8,30.3,28.8],
37:[44.0,43.3,43.3,42.4,42.0,41.6,41.2,40.8,40.4,40.0,39.6,39.2,38.8,38.4,38.0,37.6,37.2,36.8,36.4,36.0,35.6,35.2,34.8,34.4,34.0,33.6,33.2,32.8,32.4,32.0,31.6,31.2,30.8,30.6,29.9,29.0,28.7],
38:[47.1,46.3,45.8,45.3,44.8,44.3,43.9,43.0,42.6,42.2,41.8,41.4,41.0,40.6,40.2,39.8,39.4,39.0,38.6,38.2,37.8,37.4,37.0,36.6,36.2,35.8,35.4,35.0,34.6,34.2,33.9,33.7],
39:[48.6,48.0,47.2,46.4,45.4,44.4,44.0,43.6,43.2,42.8,42.4,42.0,41.6,41.2,40.8,40.4,40.0,39.6,39.2,38.8,38.4,38.0,37.6,37.2,36.8,36.4,36.0,35.6,35.2,34.8,34.4,34.0,33.6,33.3,31.2,30.8],
40:[47.8,47.2,47.2,46.1,45.6,45.2,44.8,44.4,44.0,43.6,43.2,42.8,42.4,42.0,41.6,41.2,40.8,40.4,40.0,39.6,39.2,38.8,38.4,38.0,37.6,37.2,36.8,36.4,36.0,35.6,35.2,34.9,34.6,31.7],
41:[48.7,48.7,47.7,47.3,46.9,46.5,46.1,45.7,45.3,44.9,44.5,44.1,43.7,43.3,42.9,42.5,42.1,41.7,41.3,40.9,40.5,40.1,39.7,39.3,38.9,38.5,38.1,37.7,37.3,36.9,36.5,36.1,35.7,35.3,35.0,32.7,32.7],
42:[51.5,50.1,49.6,48.4,48.0,47.6,47.2,46.8,46.4,46.0,45.6,45.2,44.8,44.4,44.0,43.6,43.2,42.8,42.4,42.0,41.6,41.2,40.8,40.4,40.0,39.6,39.2,37.8,37.2,36.6,34.7,34.7,34.0,31.2],
43:[51.5,50.5,49.4,48.6,48.2,47.8,47.4,47.0,46.6,46.2,45.8,45.4,45.0,44.6,44.2,43.8,43.4,43.0,42.6,42.2,41.8,41.4,41.0,40.6,40.2,39.8,39.4,39.0,38.6,36.1,35.5,34.9,34.3],
44:[51.5,50.9,50.4,49.9,48.7,48.3,47.9,47.5,47.1,46.7,46.3,45.9,45.5,45.1,44.7,44.3,43.9,43.5,43.1,42.7,42.3,41.9,41.5,41.1,40.7,40.3,39.9,39.5,39.1,38.6,35.4,34.9,33.5],
45:[52.3,51.5,50.8,50.4,50.0,49.6,49.2,48.8,48.4,48.0,47.6,47.2,46.8,46.4,46.0,45.6,45.2,44.8,44.4,44.0,43.6,43.2,42.8,42.4,42.0,41.6,41.2,40.8,40.4,40.0,39.6,39.3,39.1,35.6,34.9],
46:[52.1,50.5,50.1,49.7,49.3,48.9,48.5,48.1,47.7,47.3,46.9,46.5,46.1,45.7,45.3,44.9,44.5,44.1,43.7,43.3,42.9,42.5,42.1,41.7,41.3,40.9,40.5,40.1,39.8,39.6,38.2],
47:[51.0,50.6,50.2,49.8,49.4,49.0,48.6,48.2,47.8,47.4,47.0,46.6,46.2,45.8,45.4,45.0,44.6,44.2,43.8,43.4,43.0,42.6,42.2,41.8,41.4,41.0,40.6,40.3,40.1],
48:[51.2,50.5,50.1,49.7,49.3,48.9,48.5,48.1,47.7,47.3,46.9,46.5,46.1,45.7,45.3,44.9,44.5,44.1,43.7,43.3,42.9,42.5,42.1,41.9,41.0],
49:[52.1,51.7,51.3,50.9,50.5,50.1,49.7,49.3,48.9,48.5,48.1,47.7,47.3,46.9,46.5,46.1,45.7,45.3,44.9,44.5,44.1,43.7,43.4,43.2],
50:[54.8,54.0,53.5,52.8,51.7,51.3,50.9,50.5,50.1,49.7,49.3,48.9,48.5,48.1,47.7,47.3,46.9,46.5,46.1,45.7,45.3,44.9,44.6,44.3,35.7],
51:[54.3,53.9,53.5,53.1,52.7,52.3,51.9,51.5,51.1,50.7,50.3,49.9,49.5,49.1,48.7,48.3,47.9,47.5,47.1,46.7,46.3,45.9,45.5,45.0,44.3,42.0],
52:[54.4,54.0,53.6,53.2,52.8,52.4,52.0,51.6,51.2,50.8,50.4,50.0,49.6,49.2,48.8,48.4,48.0,47.6,47.2,46.8,46.4,46.0,45.6,45.2,44.8,44.5,44.5,42.7,34.8],
53:[54.8,54.3,53.0,52.3,51.9,51.5,51.1,50.7,50.3,49.9,49.5,49.1,48.7,48.3,47.9,47.5,47.1,46.7,46.3,45.7,44.7],
54:[54.4,53.7,53.2,52.5,52.1,51.7,51.3,50.9,50.5,50.1,49.7,49.3,48.2,48.2,47.2,46.7],
55:[64.6,54.8,54.8,53.2,52.8,52.3,51.9,51.5,51.0,50.5,50.0,49.4,48.2,47.4],
56:[54.1,54.1,52.4,51.8,50.9,50.4,50.0,49.5,47.5],
57:[53.8,51.4],
58:[64.9,60.8,49.8,48.2,48.2],
59:[61.8,59.3,49.8,49.5,46.8,36.0],
60:[50.4,49.8,49.8],
61:[54.0,49.8],
62:[49.8,49.8],
64:[65.5],
66:[48.2],
67:[49.5,49.5],
68:[49.5],
69:[68.4],
71:[64.3],
}

orange_20_core = {
23:[26.2,25.4,24.6,23.8,23.0],
24:[26.6,25.8,25.0,24.2,23.4],
25:[27.0,26.2,25.4,24.6,23.8],
26:[28.2,27.4,26.6,25.8,25.0,24.2],
27:[29.3,28.5,27.7,26.9,26.1,25.3],
28:[30.6,29.8,29.0,28.2,27.4,26.6,25.8],
29:[31.8,31.0,30.2,29.4,28.6,27.8,27.0],
30:[33.1,32.3,31.5,30.7,29.9,29.1,28.3,27.5],
31:[34.0,33.2,32.4,31.6,30.8,30.0,29.2,28.4],
32:[35.1,34.3,33.5,32.7,31.9,31.1,30.3,29.5,28.7],
33:[35.9,35.1,34.3,33.5,32.7,31.9,31.1,30.3,29.5],
34:[37.1,36.3,35.5,34.7,33.9,33.1,32.3,31.5,30.7],
35:[38.5,37.7,36.9,36.1,35.3,34.5,33.7,32.9,32.1],
36:[39.4,38.6,37.8,37.0,36.2,35.4,34.6,33.8,33.0],
37:[40.2,39.4,38.6,37.8,37.0,36.2,35.4,34.6,33.8],
38:[41.6,40.8,40.0,39.2,38.4,37.6,36.8,36.0,35.2],
39:[42.6,41.8,41.0,40.2,39.4,38.6,37.8,37.0,36.2],
40:[43.4,42.6,41.8,41.0,40.2,39.4,38.6,37.8,37.0],
41:[44.7,43.9,43.1,42.3,41.5,40.7,39.9,39.1,38.3],
42:[45.8,45.0,44.2,43.4,42.6,41.8,41.0,40.2,39.4],
43:[46.6,45.8,45.0,44.2,43.4,42.6,41.8,41.0,40.2],
44:[47.7,46.9,46.1,45.3,44.5,43.7,42.9,42.1,41.3],
45:[48.6,47.8,47.0,46.2,45.4,44.6,43.8,43.0,42.2],
46:[48.3,47.5,46.7,45.9,45.1,44.3,43.5,42.7,41.9],
47:[49.2,48.4,47.6,46.8,46.0,45.2,44.4,43.6],
48:[49.9,49.1,48.3,47.5,46.7,45.9,45.1,44.3],
49:[50.7,49.9,49.1,48.3,47.5,46.7,45.9],
50:[51.5,50.7,49.9,49.1,48.3,47.5],
51:[52.1,51.3,50.5,49.7,48.9,48.1],
52:[53.0,52.2,51.4,50.6,49.8,49.0],
53:[52.5,51.7,50.9,50.1,49.3],
54:[52.3,51.5,50.7,49.9],
55:[52.6,51.8,51.0],
}

ideal_fit = [18, 71]
tick_vals = [20, 30, 40, 50, 60, 70]
axis_range = [15.35, 73.65]
panel_titles = ["Scatter: Actual vs Predicted NH<sub>3</sub> (Sampling: 10 min)",
                "Scatter: Actual vs Predicted NH<sub>3</sub> (Sampling: 20 min)"]
captions = ["(<b>a</b>) Sampling: 10 min", "(<b>b</b>) Sampling: 20 min"]
legend_pad = "\u00a0\u00a0\u00a0\u00a0"

W, H = 3746, 3899
FONT = "Liberation Serif"
TEXT = "#262626"
BLUE = "rgb(72,198,232)"
ORANGE = "rgb(250,122,55)"
col_x = [(193, 1809), (2093, 3709)]
row_y = [(113, 1646), (2046, 3584)]
caption_pos = [(1873, 1890), (1873, 3822)]

panels = [(blue_10, blue_10_core, BLUE, 0, 0), (orange_10, orange_10_core, ORANGE, 1, 0),
          (blue_20, blue_20_core, BLUE, 0, 1), (orange_20, orange_20_core, ORANGE, 1, 1)]

fig = go.Figure()
layout = {}
annotations = []
for i, (data, core, color, c, r) in enumerate(panels):
    n = "" if i == 0 else str(i + 1)
    xs = [k for d in (data, core) for k, v in d.items() for _ in v]
    ys = [p for d in (data, core) for v in d.values() for p in v]
    leg = "legend" + n
    fig.add_trace(go.Scatter(
        x=xs, y=ys, mode="markers", name=legend_pad + "Predicted\u00a0\u00a0", xaxis="x" + n, yaxis="y" + n,
        legend=leg,
        marker=dict(size=21, color=color, opacity=0.6, line=dict(color="rgba(0,0,0,0.8)", width=2.5)),
    ))
    fig.add_trace(go.Scatter(
        x=ideal_fit, y=ideal_fit, mode="lines", name=legend_pad + "Ideal Fit", xaxis="x" + n, yaxis="y" + n,
        legend=leg,
        line=dict(color="#ff1414", width=5, dash="21px,9px"),
    ))
    x0, x1 = col_x[c]
    y0, y1 = row_y[r]
    common = dict(
        range=axis_range, tickvals=tick_vals, showline=True, mirror=True,
        linecolor="#cfcfcf", linewidth=4, showgrid=True, gridcolor="#e4e4e4", gridwidth=2.5,
        griddash="12px,7px", zeroline=False, tickfont=dict(family=FONT, size=48, color=TEXT),
        ticks="outside", tickcolor="rgba(0,0,0,0)",
    )
    layout["xaxis" + n] = dict(
        common, domain=[x0 / W, x1 / W], anchor="y" + n, ticklen=10,
        title=dict(text="Actual NH<sub>3</sub>", font=dict(family=FONT, size=65, color=TEXT), standoff=16),
    )
    layout["yaxis" + n] = dict(
        common, domain=[1 - y1 / H, 1 - y0 / H], anchor="x" + n, ticklen=20,
        title=dict(text="Predicted NH<sub>3</sub>", font=dict(family=FONT, size=65, color=TEXT), standoff=12),
    )
    layout[leg] = dict(
        x=(x0 + 23) / W, y=1 - (y0 + 25) / H, xanchor="left", yanchor="top",
        bgcolor="rgba(255,255,255,0.8)", bordercolor="#d4d4d4", borderwidth=3,
        font=dict(family=FONT, size=50, color=TEXT), itemwidth=105, itemsizing="trace",
    )
    annotations.append(dict(
        text=panel_titles[r], xref="paper", yref="paper", x=(x0 + x1) / 2 / W,
        y=1 - (y0 - 63) / H, xanchor="center", yanchor="middle", showarrow=False,
        font=dict(family=FONT, size=45.5, color=TEXT),
    ))

for r, (xc, yc) in enumerate(caption_pos):
    annotations.append(dict(
        text=captions[r], xref="paper", yref="paper", x=xc / W, y=1 - yc / H,
        xanchor="center", yanchor="middle", showarrow=False,
        font=dict(family=FONT, size=89, color="black"),
    ))

fig.update_layout(
    width=W, height=H, margin=dict(l=0, r=0, t=0, b=0), autosize=False,
    paper_bgcolor="white", plot_bgcolor="white", showlegend=True,
    hovermode=False, annotations=annotations, **layout,
)
fig.write_html("out.html", config={"displayModeBar": False},
               post_script="document.body.style.margin='0';")
